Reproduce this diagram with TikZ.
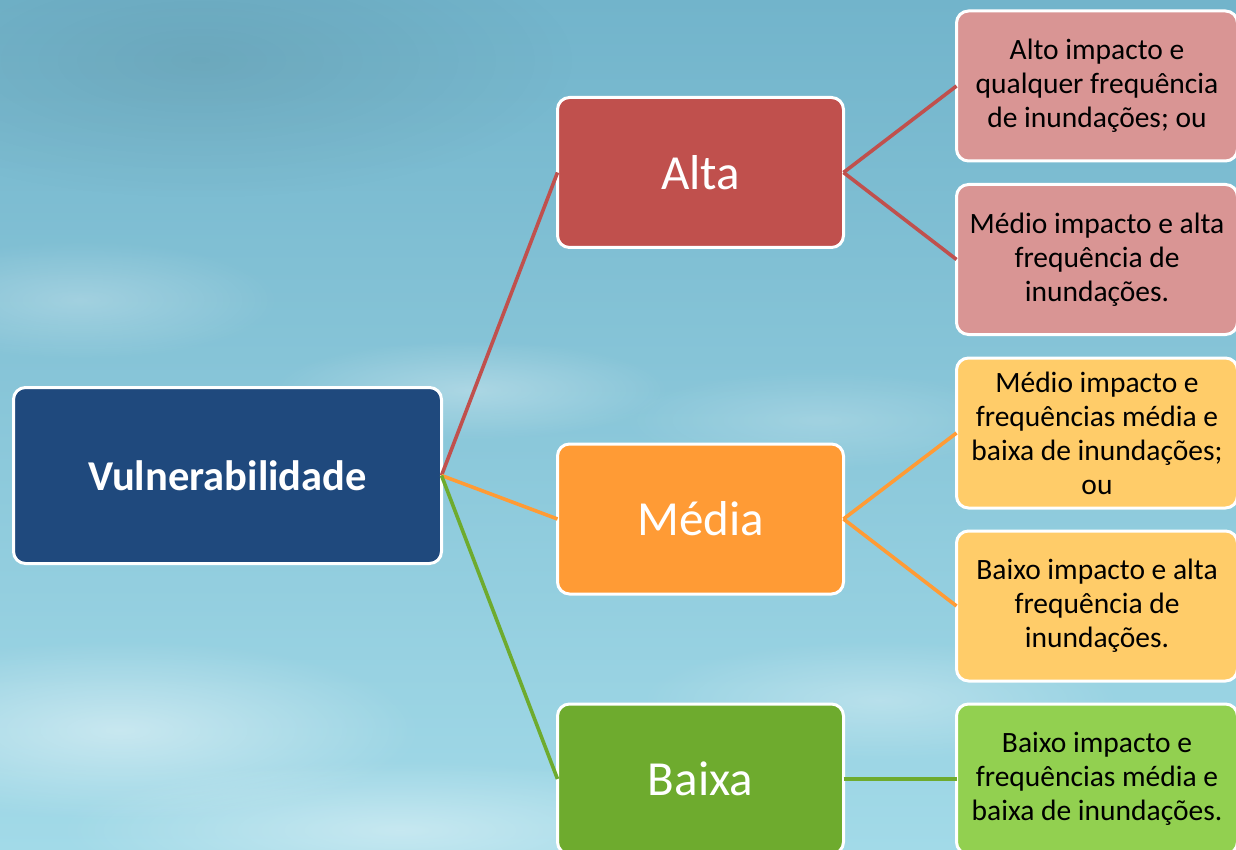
\documentclass[tikz,border=0pt]{standalone}
\usepackage{fontspec}
\setmainfont{Carlito}
\usetikzlibrary{fadings}
\definecolor{bgtop}{HTML}{72B4CB}
\definecolor{bgmid}{HTML}{80D2E2}
\definecolor{bgbot}{HTML}{A2DAE8}
\definecolor{navy}{HTML}{1F497D}
\definecolor{redA}{HTML}{C0504D}
\definecolor{redB}{HTML}{D99594}
\definecolor{orA}{HTML}{FF9B35}
\definecolor{orB}{HTML}{FFCC69}
\definecolor{grA}{HTML}{6EAB2E}
\definecolor{grB}{HTML}{92D050}
\tikzfading[name=softfade, inner color=transparent!0, outer color=transparent!100]
\tikzset{
  boxbase/.style={draw=white, line width=3pt, rounded corners=12pt, align=center, inner sep=0pt, outer sep=0pt},
  midbox/.style={boxbase, minimum width=286pt, minimum height=150pt, text=white, font=\fontsize{49}{58}\selectfont},
  leafbox/.style={boxbase, minimum width=281pt, minimum height=150pt, text=black, font=\fontsize{29.5}{34}\selectfont},
  link/.style={line width=3.6pt},
  cloud/.style={fill=white, path fading=softfade}
}
\begin{document}
\begin{tikzpicture}[x=1pt,y=-1pt]
\useasboundingbox (0,0) rectangle (1236,850);
\clip (0,0) rectangle (1236,850);
% background
\shade[top color=bgtop, middle color=bgmid, bottom color=bgbot] (0,0) rectangle (1236,850);
\fill[cloud, opacity=0.45] (120,730) ellipse (300pt and 90pt);
\fill[cloud, opacity=0.40] (400,830) ellipse (340pt and 70pt);
\fill[cloud, opacity=0.30] (880,700) ellipse (240pt and 60pt);
\fill[cloud, opacity=0.30] (470,390) ellipse (200pt and 50pt);
\fill[cloud, opacity=0.20] (820,420) ellipse (200pt and 50pt);
\fill[cloud, opacity=0.25] (80,300) ellipse (200pt and 60pt);
\fill[black, opacity=0.08, path fading=softfade] (200,60) ellipse (380pt and 140pt);

% nodes
\node[boxbase, fill=navy, minimum width=428pt, minimum height=176pt, text=white, font=\bfseries\fontsize{42.5}{50}\selectfont] (root) at (227.5,475.5) {Vulnerabilidade};
\node[midbox, fill=redA] (alta) at (700.5,172.5) {Alta};
\node[midbox, fill=orA] (media) at (700.5,519) {Média};
\node[midbox, fill=grA] (baixa) at (700.5,779) {Baixa};

\node[leafbox, fill=redB] (l1) at (1097,86) {Alto impacto e\\qualquer frequência\\de inundações; ou};
\node[leafbox, fill=redB] (l2) at (1097,259.5) {Médio impacto e alta\\frequência de\\inundações.};
\node[leafbox, fill=orB] (l3) at (1097,433) {Médio impacto e\\frequências média e\\baixa de inundações;\\ou};
\node[leafbox, fill=orB] (l4) at (1097,606) {Baixo impacto e alta\\frequência de\\inundações.};
\node[leafbox, fill=grB] (l5) at (1097,779) {Baixo impacto e\\frequências média e\\baixa de inundações.};

% connectors
\draw[link, redA] (root.east) -- (alta.west);
\draw[link, orA] (root.east) -- (media.west);
\draw[link, grA] (root.east) -- (baixa.west);
\draw[link, redA] (alta.east) -- (l1.west);
\draw[link, redA] (alta.east) -- (l2.west);
\draw[link, orA] (media.east) -- (l3.west);
\draw[link, orA] (media.east) -- (l4.west);
\draw[link, grA] (baixa.east) -- (l5.west);
\end{tikzpicture}
\end{document}
